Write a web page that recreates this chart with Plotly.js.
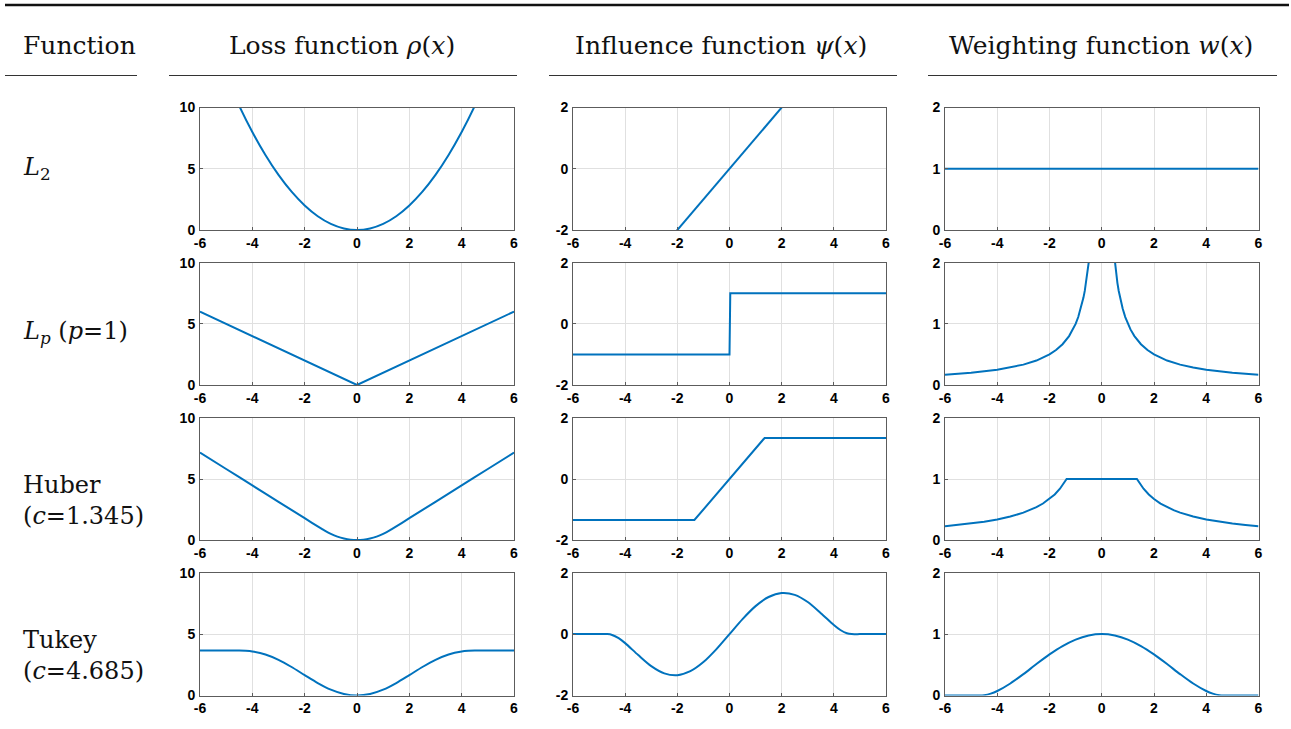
<!DOCTYPE html>
<html>
<head>
<meta charset="utf-8">
<script src="https://cdn.plot.ly/plotly-3.0.1.min.js"></script>
<style>html,body{margin:0;padding:0;background:#fff;}#chart{width:1291px;height:729px;}</style>
</head>
<body>
<div id="chart"></div>
<script>
// ---------- data ----------
const columnHeaders = ["Function", "Loss function <i>ρ</i>(<i>x</i>)", "Influence function <i>ψ</i>(<i>x</i>)", "Weighting function <i>w</i>(<i>x</i>)"];
const rowLabels = ["<i>L</i><sub>2</sub>", "<i>L<sub>p</sub></i> (<i>p</i>=1)", "Huber<br>(<i>c</i>=1.345)", "Tukey<br>(<i>c</i>=4.685)"];
const xTicks = [-6, -4, -2, 0, 2, 4, 6];
const rhoTicks = [0, 5, 10];
const psiTicks = [-2, 0, 2];
const wTicks = [0, 1, 2];

// L2
const l2RhoX = [-6,-5.5,-5,-4.5,-4,-3.5,-3,-2.5,-2,-1.5,-1,-0.5,0,0.5,1,1.5,2,2.5,3,3.5,4,4.5,5,5.5,6];
const l2RhoY = [18,15.125,12.5,10.125,8,6.125,4.5,3.125,2,1.125,0.5,0.125,0,0.125,0.5,1.125,2,3.125,4.5,6.125,8,10.125,12.5,15.125,18];
const l2PsiX = [-6,-2,0,2,6];
const l2PsiY = [-6,-2,0,2,6];
const l2WX = [-6,0,6];
const l2WY = [1,1,1];

// Lp (p=1)
const lpRhoX = [-6,0,6];
const lpRhoY = [6,0,6];
const lpPsiX = [-6,0,0.03,6];
const lpPsiY = [-1,-1,1,1];
const lpWX = [-6,-5,-4,-3.5,-3,-2.5,-2,-1.75,-1.5,-1.25,-1.1,-1,-0.9,-0.8,-0.75,-0.7,-0.65,-0.6,-0.55,-0.5,-0.45,null,0.45,0.5,0.55,0.6,0.65,0.7,0.75,0.8,0.9,1,1.1,1.25,1.5,1.75,2,2.5,3,3.5,4,5,6];
const lpWY = [0.167,0.2,0.25,0.286,0.333,0.4,0.5,0.571,0.667,0.8,0.909,1,1.111,1.25,1.333,1.429,1.538,1.667,1.818,2,2.222,null,2.222,2,1.818,1.667,1.538,1.429,1.333,1.25,1.111,1,0.909,0.8,0.667,0.571,0.5,0.4,0.333,0.286,0.25,0.2,0.167];

// Huber (c=1.345)
const huRhoX = [-6,-5,-4,-3,-2,-1.345,-1.25,-1,-0.75,-0.5,-0.25,0,0.25,0.5,0.75,1,1.25,1.345,2,3,4,5,6];
const huRhoY = [7.165,5.82,4.475,3.13,1.785,0.905,0.781,0.5,0.281,0.125,0.031,0,0.031,0.125,0.281,0.5,0.781,0.905,1.785,3.13,4.475,5.82,7.165];
const huPsiX = [-6,-1.345,1.345,6];
const huPsiY = [-1.345,-1.345,1.345,1.345];
const huWX = [-6,-5.5,-5,-4.5,-4,-3.5,-3,-2.75,-2.5,-2.25,-2,-1.8,-1.6,-1.5,-1.4,-1.345,1.345,1.4,1.5,1.6,1.8,2,2.25,2.5,2.75,3,3.5,4,4.5,5,5.5,6];
const huWY = [0.224,0.245,0.269,0.299,0.336,0.384,0.448,0.489,0.538,0.598,0.673,0.747,0.841,0.897,0.961,1,1,0.961,0.897,0.841,0.747,0.673,0.598,0.538,0.489,0.448,0.384,0.336,0.299,0.269,0.245,0.224];

// Tukey (c=4.685)
const tuX = [-6,-5.5,-5,-4.685,-4.5,-4.25,-4,-3.5,-3,-2.5,-2,-1.5,-1,-0.5,0,0.5,1,1.5,2,2.5,3,3.5,4,4.25,4.5,4.685,5,5.5,6];
const tuRhoY = [3.658,3.658,3.658,3.658,3.656,3.638,3.585,3.342,2.907,2.320,1.658,1.014,0.478,0.124,0,0.124,0.478,1.014,1.658,2.320,2.907,3.342,3.585,3.638,3.656,3.658,3.658,3.658,3.658];
const tuPsiY = [0,0,0,0,-0.027,-0.133,-0.294,-0.683,-1.044,-1.279,-1.338,-1.208,-0.911,-0.489,0,0.489,0.911,1.208,1.338,1.279,1.044,0.683,0.294,0.133,0.027,0,0,0,0];
const tuWY = [0,0,0,0,0.006,0.031,0.073,0.195,0.348,0.512,0.669,0.805,0.911,0.977,1,0.977,0.911,0.805,0.669,0.512,0.348,0.195,0.073,0.031,0.006,0,0,0,0];

// ---------- layout helpers ----------
const W = 1291, H = 729;
const px = v => v / W;
const py = v => 1 - v / H;
const colPx = [[200, 514], [573, 886], [945, 1258.5]];
const rowPx = [[107.5, 230], [262.7, 385], [418, 540], [572.7, 695.5]];
const yRanges = [[0, 10], [-2, 2], [0, 2]];
const yTickSets = [rhoTicks, psiTicks, wTicks];

const panels = [
  [[l2RhoX, l2RhoY, 'spline'], [l2PsiX, l2PsiY, 'linear'], [l2WX, l2WY, 'linear']],
  [[lpRhoX, lpRhoY, 'linear'], [lpPsiX, lpPsiY, 'linear'], [lpWX, lpWY, 'linear']],
  [[huRhoX, huRhoY, 'spline'], [huPsiX, huPsiY, 'linear'], [huWX, huWY, 'linear']],
  [[tuX, tuRhoY, 'spline'], [tuX, tuPsiY, 'spline'], [tuX, tuWY, 'spline']]
];

const boxColor = '#5c5c5c';
const gridColor = '#e0e0e0';

const traces = [];
const layout = {
  width: W, height: H,
  margin: {l: 0, r: 0, t: 0, b: 0},
  paper_bgcolor: '#ffffff',
  plot_bgcolor: '#ffffff',
  showlegend: false,
  font: {family: 'Liberation Sans, Arial, sans-serif', size: 14, color: '#000'},
  annotations: [],
  shapes: []
};

let idx = 0;
for (let r = 0; r < 4; r++) {
  for (let c = 0; c < 3; c++) {
    idx++;
    const xs = idx === 1 ? '' : String(idx);
    const [xd, yd, shape] = panels[r][c];
    traces.push({
      x: xd, y: yd, type: 'scatter', mode: 'lines',
      xaxis: 'x' + xs, yaxis: 'y' + xs,
      line: {color: '#0072BD', width: 2, shape: shape, smoothing: 0.8},
      connectgaps: false, hoverinfo: 'skip', cliponaxis: true
    });
    const axBase = {
      showgrid: true, gridcolor: gridColor, gridwidth: 1,
      zeroline: false, showline: true, mirror: true, linecolor: boxColor, linewidth: 1,
      ticks: 'inside', ticklen: 3, tickcolor: boxColor,
      tickfont: {family: 'Liberation Sans, Arial, sans-serif', size: 14, color: '#000', weight: 700},
      fixedrange: true
    };
    layout['xaxis' + xs] = Object.assign({}, axBase, {
      domain: [px(colPx[c][0]), px(colPx[c][1])],
      range: [-6, 6], tickmode: 'array', tickvals: xTicks,
      ticktext: xTicks.map(String), anchor: 'y' + xs, ticklabelstandoff: 0
    });
    layout['yaxis' + xs] = Object.assign({}, axBase, {
      domain: [py(rowPx[r][1]), py(rowPx[r][0])],
      range: yRanges[c], tickmode: 'array', tickvals: yTickSets[c],
      ticktext: yTickSets[c].map(String), anchor: 'x' + xs, ticklabelstandoff: 1
    });
  }
}

// header texts
const headerFont = {family: 'DejaVu Serif, serif', size: 25, color: '#111'};
const headerCenters = [79, 342, 721, 1101];
columnHeaders.forEach((t, i) => {
  layout.annotations.push({
    text: t, x: px(headerCenters[i]), y: py(45), xref: 'paper', yref: 'paper',
    xanchor: 'center', yanchor: 'middle', showarrow: false, font: headerFont
  });
});
// row labels
const rowFont = {family: 'DejaVu Serif, serif', size: 24, color: '#111'};
const rowCenters = [168, 332, 500, 655];
rowLabels.forEach((t, i) => {
  layout.annotations.push({
    text: t, x: px(21), y: py(rowCenters[i]), xref: 'paper', yref: 'paper',
    xanchor: 'left', yanchor: 'middle', align: 'left', showarrow: false, font: rowFont
  });
});

// top rule and header underlines
layout.shapes.push({type: 'line', xref: 'paper', yref: 'paper', x0: px(5), x1: px(1289), y0: py(5), y1: py(5), line: {color: '#111', width: 2.5}});
const underlines = [[5, 137], [169, 517], [549, 897], [928, 1277]];
underlines.forEach(u => {
  layout.shapes.push({type: 'line', xref: 'paper', yref: 'paper', x0: px(u[0]), x1: px(u[1]), y0: py(75.5), y1: py(75.5), line: {color: '#333', width: 1}});
});

Plotly.newPlot('chart', traces, layout, {staticPlot: true, displayModeBar: false});
</script>
</body>
</html>
